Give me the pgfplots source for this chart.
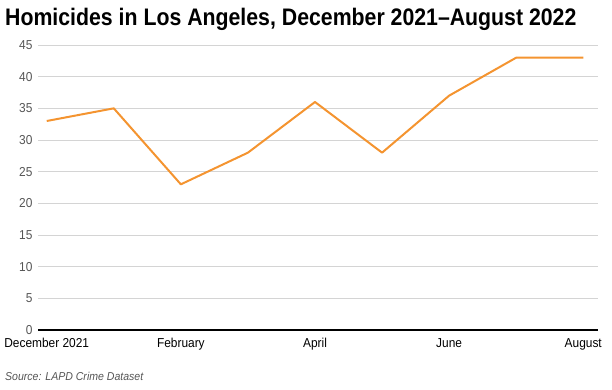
\documentclass[border=0pt]{standalone}
\usepackage{fontspec}
\setmainfont{Liberation Sans}
\newfontfamily\titlefont[FakeStretch=0.89]{Liberation Sans}
\newfontfamily\tickfont[FakeStretch=0.92]{Liberation Sans}
\usepackage{pgfplots}
\pgfplotsset{compat=1.18}
\definecolor{lineor}{RGB}{244,148,48}
\definecolor{gridc}{RGB}{212,212,212}
\definecolor{tickc}{RGB}{85,85,85}
\begin{document}
\begin{tikzpicture}[x=1bp,y=1bp]
\useasboundingbox (0,0) rectangle (612,389);
\node[anchor=base west,inner sep=0pt,font=\titlefont\fontsize{24}{28}\selectfont\bfseries] at (5,364) {Homicides in Los Angeles, December 2021–August 2022};
\node[anchor=base west,inner sep=0pt,font=\tickfont\fontsize{11.5}{13}\selectfont\itshape,text=tickc] at (5,9) {Source: LAPD Crime Dataset};
\begin{axis}[
  at={(38bp,59bp)}, anchor=south west,
  scale only axis, width=560bp, height=285bp,
  xmin=-0.13, xmax=8.22, ymin=0, ymax=45,
  axis line style={draw=none},
  ytick={0,5,...,45},
  xtick={0,2,4,6,8},
  xticklabels={December 2021,February,April,June,August},
  ymajorgrids, grid style={gridc, line width=0.8bp},
  major tick length=0pt,
  tick label style={font=\tickfont\fontsize{13}{15}\selectfont, text=tickc},
  xticklabel style={text=black, yshift=-5bp},
  yticklabel style={xshift=-2bp},
  /pgf/number format/assume math mode=true,
  clip=false,
]
\addplot[lineor, line width=2bp, line join=round] coordinates {
(0,33) (1,35) (2,23) (3,28) (4,36) (5,28) (6,37) (7,43) (8,43)};
\draw[black, line width=1.2bp] (axis cs:-0.13,0) -- (axis cs:8.22,0);
\end{axis}
\end{tikzpicture}
\end{document}
